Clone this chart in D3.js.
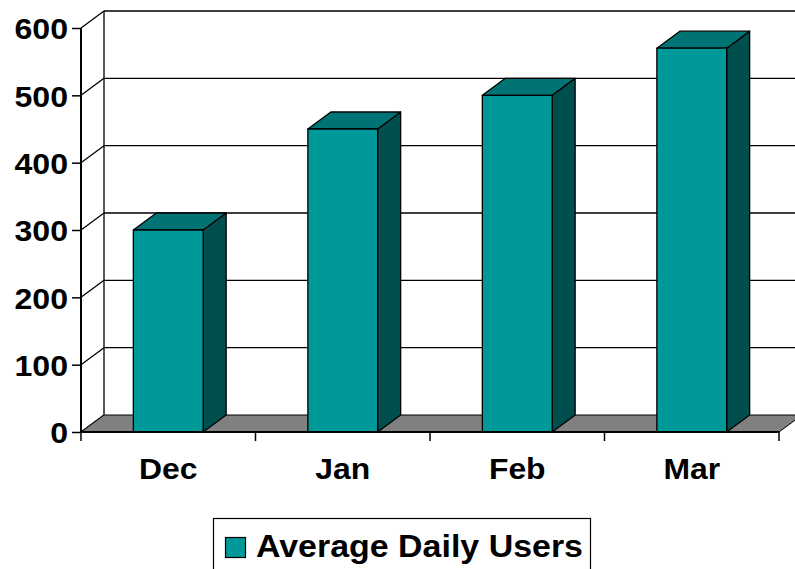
<!DOCTYPE html>
<html>
<head>
<meta charset="utf-8">
<style>
  body { margin: 0; background: #fff; }
  svg { display: block; font-family: "Liberation Sans", Arial, sans-serif; font-weight: bold; }
</style>
</head>
<body>
<svg width="795" height="569"></svg>
<script src="https://d3js.org/d3.v7.min.js"></script>
<script>

var months = ["Dec", "Jan", "Feb", "Mar"],
    users = [300, 450, 500, 570],
    yTicks = [0, 100, 200, 300, 400, 500, 600],
    seriesName = "Average Daily Users";

var svg = d3.select("svg");

// 3-d depth offset of the plot box
var dx = 23, dy = -17;

var x = d3.scaleBand()
    .domain(months)
    .range([81, 779])
    .paddingInner(0.6)
    .paddingOuter(0.3);

var y = d3.scaleLinear()
    .domain([0, 600])
    .range([432, 28]);

var xL = x.range()[0], xR = x.range()[1], y0 = y(0);

var frontColor = "#009999", topColor = "#007474", sideColor = "#004f4f";

// back wall gridlines + left wall diagonals
var grid = svg.append("g").attr("stroke", "#000").attr("stroke-width", 1.3).attr("fill", "none");

grid.selectAll("line.back")
  .data(yTicks.filter(function(d) { return d > 0; }))
  .enter().append("line")
    .attr("x1", xL + dx).attr("x2", xR + dx + 20)
    .attr("y1", function(d) { return y(d) + dy; })
    .attr("y2", function(d) { return y(d) + dy; });

grid.selectAll("line.diag")
  .data(yTicks)
  .enter().append("line")
    .attr("x1", xL).attr("x2", xL + dx)
    .attr("y1", function(d) { return y(d); })
    .attr("y2", function(d) { return y(d) + dy; });

grid.append("line")
    .attr("x1", xL + dx).attr("x2", xL + dx)
    .attr("y1", y(600) + dy).attr("y2", y0 + dy);

// floor
svg.append("path")
    .attr("d", "M" + xL + "," + y0 + "L" + xR + "," + y0 + "L" + (xR + dx) + "," + (y0 + dy) +
               "L" + (xL + dx) + "," + (y0 + dy) + "Z")
    .attr("fill", "#808080")
    .attr("stroke", "#000")
    .attr("stroke-width", 1);

// bars
var bar = svg.append("g")
    .attr("stroke", "#000")
    .attr("stroke-width", 1.3)
    .attr("stroke-linejoin", "round")
  .selectAll("g")
  .data(months.map(function(m, i) { return {month: m, value: users[i]}; }))
  .enter().append("g");

bar.append("path")
    .attr("fill", sideColor)
    .attr("d", function(d) {
      var r = x(d.month) + x.bandwidth(), t = y(d.value);
      return "M" + r + "," + t + "L" + (r + dx) + "," + (t + dy) + "L" + (r + dx) + "," + (y0 + dy) +
             "L" + r + "," + y0 + "Z";
    });

bar.append("path")
    .attr("fill", topColor)
    .attr("d", function(d) {
      var l = x(d.month), r = l + x.bandwidth(), t = y(d.value);
      return "M" + l + "," + t + "L" + (l + dx) + "," + (t + dy) + "L" + (r + dx) + "," + (t + dy) +
             "L" + r + "," + t + "Z";
    });

bar.append("rect")
    .attr("fill", frontColor)
    .attr("x", function(d) { return x(d.month); })
    .attr("y", function(d) { return y(d.value); })
    .attr("width", x.bandwidth())
    .attr("height", function(d) { return y0 - y(d.value); });

// value axis
var yAxis = svg.append("g")
    .attr("transform", "translate(" + xL + ",0)")
    .call(d3.axisLeft(y).tickValues(yTicks).tickSize(9).tickPadding(0).tickFormat(d3.format("d")));

yAxis.select(".domain").attr("stroke-width", 2).attr("d", "M0," + y(600) + "V" + y0);
yAxis.selectAll(".tick line").attr("stroke-width", 1.5);
yAxis.selectAll(".tick text")
    .attr("font-size", 30)
    .attr("fill", "#000")
    .attr("x", 0)
    .attr("dy", "0.36em")
    .attr("transform", "translate(-13,0) scale(1.07,1)");

// category axis
var tickX = [xL].concat(months.map(function(m, i) { return xL + x.step() * (i + 1); }));

var xAxis = svg.append("g").attr("stroke", "#000");
xAxis.append("line")
    .attr("x1", xL).attr("x2", xR)
    .attr("y1", y0).attr("y2", y0)
    .attr("stroke-width", 2.2);
xAxis.selectAll("line.t")
  .data(tickX)
  .enter().append("line")
    .attr("x1", function(d) { return d; }).attr("x2", function(d) { return d; })
    .attr("y1", y0).attr("y2", y0 + 9)
    .attr("stroke-width", 1.5);

svg.append("g").selectAll("text")
  .data(months)
  .enter().append("text")
    .attr("transform", function(d) { return "translate(" + (x(d) + x.bandwidth() / 2) + ",479) scale(1.1,1)"; })
    .attr("text-anchor", "middle")
    .attr("font-size", 29)
    .text(function(d) { return d; });

// legend
var legend = svg.append("g");
legend.append("rect")
    .attr("x", 213.5).attr("y", 518.5)
    .attr("width", 377).attr("height", 70)
    .attr("fill", "#fff").attr("stroke", "#000").attr("stroke-width", 1.2);
legend.append("rect")
    .attr("x", 225.5).attr("y", 537.5)
    .attr("width", 20).attr("height", 20)
    .attr("fill", frontColor).attr("stroke", "#000").attr("stroke-width", 1.2);
legend.append("text")
    .attr("x", 256).attr("y", 557)
    .attr("font-size", 31)
    .attr("textLength", 327)
    .attr("lengthAdjust", "spacingAndGlyphs")
    .text(seriesName);

</script>
</body>
</html>
